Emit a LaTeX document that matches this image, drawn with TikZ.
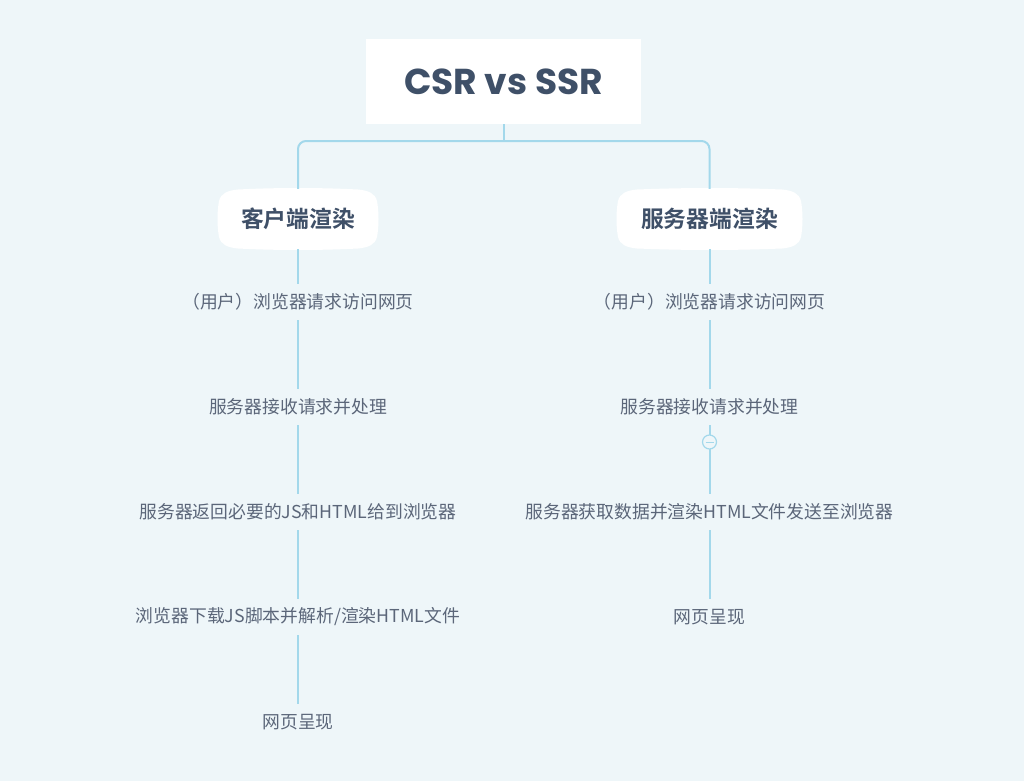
\documentclass[tikz,border=0pt]{standalone}
\usepackage{fontspec}
\setmainfont{Noto Sans CJK SC}[BoldFont={Noto Sans CJK SC Bold}]
\newfontfamily\titlefont{Poppins}[BoldFont={Poppins Bold}]

\definecolor{bgblue}{HTML}{EEF6F9}
\definecolor{linkblue}{HTML}{A3D8EB}
\definecolor{inkdark}{HTML}{3F5068}
\definecolor{inkgrey}{HTML}{5B6679}

\tikzset{
    title/.style={fill=white, inner sep=0pt, minimum width=275pt, minimum height=85pt,
        text=inkdark, font=\titlefont\bfseries\fontsize{36}{36}\selectfont},
    branch/.style={inner sep=0pt, minimum height=60pt, text=inkdark,
        font=\bfseries\fontsize{22.8}{22.8}\selectfont},
    stepnote/.style={inner sep=0pt, minimum height=36pt, text=inkgrey,
        font=\fontsize{17.8}{17.8}\selectfont},
    link/.style={draw=linkblue, line width=2pt},
}

% white lens shaped box behind a branch head: name, x, half width, text
\newcommand{\branchbox}[4]{%
    \fill[white] (#2-#3+1,201) .. controls (#2-#3+3,193) and (#2-#3+10,190.5) .. (#2-#3+20,189.5)
        .. controls (#2-20,187.5) and (#2+20,187.5) .. (#2+#3-20,189.5)
        .. controls (#2+#3-10,190.5) and (#2+#3-3,193) .. (#2+#3-1,201)
        .. controls (#2+#3+1,212) and (#2+#3+1,226) .. (#2+#3-1,237)
        .. controls (#2+#3-3,245) and (#2+#3-10,247.5) .. (#2+#3-20,248.5)
        .. controls (#2+20,250.5) and (#2-20,250.5) .. (#2-#3+20,248.5)
        .. controls (#2-#3+10,247.5) and (#2-#3+3,245) .. (#2-#3+1,237)
        .. controls (#2-#3-1,226) and (#2-#3-1,212) .. cycle;
    \node[branch, minimum width=2*#3] (#1) at (#2,219) {#4};%
}

\begin{document}
\begin{tikzpicture}[x=1pt, y=-1pt]
    \fill[bgblue] (0,0) rectangle (1024,781);
    \useasboundingbox (0,0) rectangle (1024,781);

    \node[title] (title) at (503.5,81.5) {CSR vs SSR};
    \coordinate (fork) at (503.5,141);

    \branchbox{csr}{298}{80}{客户端渲染}
    \branchbox{ssr}{709.5}{92.5}{服务器端渲染}

    % client side
    \node[stepnote] (c1) at (298,302) {（用户）浏览器请求访问网页};
    \node[stepnote] (c2) at (298,407) {服务器接收请求并处理};
    \node[stepnote] (c3) at (298,512) {服务器返回必要的JS和HTML给到浏览器};
    \node[stepnote] (c4) at (298,617) {浏览器下载JS脚本并解析/渲染HTML文件};
    \node[stepnote] (c5) at (298,722) {网页呈现};

    % server side
    \node[stepnote] (s1) at (709.5,302) {（用户）浏览器请求访问网页};
    \node[stepnote] (s2) at (709.5,407) {服务器接收请求并处理};
    \node[stepnote] (s3) at (709.5,512) {服务器获取数据并渲染HTML文件发送至浏览器};
    \node[stepnote] (s4) at (709.5,617) {网页呈现};

    \draw[link] (title.south) -- (fork);
    \draw[link, rounded corners=8pt] (csr.north) -- (csr.north |- fork) -- (ssr.north |- fork) -- (ssr.north);

    \foreach \a/\b in {csr/c1, c1/c2, c2/c3, c3/c4, c4/c5, ssr/s1, s1/s2, s2/s3, s3/s4}
        \draw[link] (\a) -- (\b);

    \node[circle, draw=linkblue, fill=bgblue, line width=1.2pt, minimum size=14pt, inner sep=0pt,
        path picture={\draw[linkblue, line width=1pt]
            ([xshift=-4pt]path picture bounding box.center) -- ([xshift=4pt]path picture bounding box.center);}]
        (fold) at (709.5,442) {};
\end{tikzpicture}
\end{document}
